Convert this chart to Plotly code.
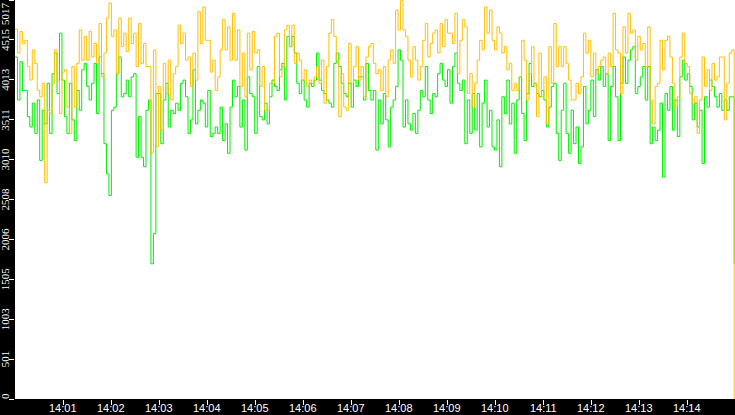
import pandas as pd
import plotly.graph_objects as go

orange_values = [
    4650, 4350, 4620, 4470,
    4510, 4180, 4010, 4390, 4220, 3880, 3800, 3970, 2720, 3630, 3590, 3970, 4390, 4010,
    3590, 4110, 4140, 3670, 3340, 4180, 3670, 4220, 4640, 4260, 4560, 4260, 4620, 4300,
    4470, 4220, 4720, 4050, 4350, 4790, 4980, 4560,
    4640, 4090, 4790, 4430, 4600, 4370, 4790, 4470, 4600, 4180, 4720, 4220, 4470, 4180,
    4180, 3090, 4390, 3170, 3930, 3380, 4220, 3840, 4260, 3760, 4090, 4180, 4700, 4470,
    4600, 4260, 4300, 3930, 4350, 4010, 4870, 4470,
    4930, 4510, 4510, 4110, 4260, 3880, 4050, 4390, 4770, 4390, 4680, 4260, 4850, 4260,
    4640, 3930, 4350, 3800, 4600, 4140, 4620, 4350, 4390, 3930, 4180, 3630, 3630, 3970,
    3970, 4560, 4600, 4050, 4180, 4640, 4700, 4430,
    4700, 4220, 4350, 4260, 4010, 4140, 3930, 4010, 3970, 4050, 4180, 3970, 4260, 3720,
    4180, 4600, 4770, 4560, 4260, 3550, 4090, 3670, 3630, 4470, 3970, 4180, 4430, 4010,
    4180, 3800, 4300, 4430, 4470, 4220, 4090, 4140,
    3880, 4180, 3800, 4260, 4390, 4220, 4890, 4640, 5010, 4640, 4560, 4260, 4050, 4430,
    4260, 4010, 4180, 4510, 4720, 4300, 4470, 4600, 4640, 4350, 4720, 4430, 4770, 4600,
    4600, 4470, 4850, 4090, 4510, 4770, 4680, 3840,
    4090, 3670, 3970, 4260, 4510, 4390, 4930, 4600, 4890, 4510, 4390, 4680, 4600, 4350,
    4430, 4140, 4220, 3880, 3970, 3880, 4050, 4510, 4260, 3760, 4090, 4430, 3970, 3550,
    4350, 3800, 4050, 3460, 4430, 3970, 4720, 4180,
    4430, 4180, 4430, 4220, 4010, 3760, 3760, 3970, 3840, 4050, 4600, 4350, 4510, 4050,
    4350, 4090, 4180, 4260, 4300, 4090, 4350, 4180, 4850, 4390, 4350, 3840, 4680, 4350,
    4850, 4600, 4640, 4260, 4560, 4390, 4470, 4180,
    4680, 3760, 3460, 3930, 3970, 4510, 4140, 4510, 4560, 4300, 3970, 3670, 3800, 4300,
    4600, 4220, 4180, 3840, 3720, 3800, 3340, 3760, 4300, 3930, 4140, 3880, 4220, 4010,
    4050, 4300, 4300, 3510, 3970, 4350, 4390, 0,
]

green_values = [
    4300, 3760, 4240, 3880,
    3880, 3550, 3420, 3720, 3340, 3760, 3000, 3630, 3460, 3970, 3340, 4090, 4350, 3840,
    4600, 4010, 3550, 3340, 3970, 3510, 3250, 3880, 3630, 4140, 4220, 3930, 3760, 3970,
    4220, 3590, 4300, 4090, 3210, 2830, 2560, 3630,
    3670, 4090, 4300, 3800, 3840, 4010, 3800, 4050, 4090, 3040, 3550, 3040, 2920, 3630,
    3760, 1700, 2080, 3840, 3840, 3210, 3760, 3970, 3420, 3630, 3590, 3720, 3630, 3970,
    4010, 3800, 3340, 3510, 4140, 3460, 3630, 3760,
    3720, 3420, 3880, 3300, 3340, 3420, 3340, 3670, 3250, 3460, 3090, 3670, 4010, 3800,
    3930, 3420, 3760, 3130, 4050, 3840, 3800, 3340, 4180, 3550, 3510, 3720, 3460, 3800,
    4010, 3930, 3880, 4140, 4220, 3760, 4560, 4430,
    4560, 4350, 3970, 3840, 4010, 3760, 3670, 3970, 3930, 4010, 4350, 4010, 3880, 3840,
    3760, 3720, 3670, 4220, 4350, 4180, 3970, 3840, 3800, 3970, 3670, 4010, 3930, 4050,
    4050, 3760, 4220, 3880, 3760, 3880, 3130, 3760,
    3460, 3840, 3510, 3170, 3670, 3760, 3930, 4390, 4260, 3420, 3760, 3460, 3380, 3590,
    3340, 3630, 3880, 3800, 4180, 3760, 3590, 3840, 3800, 4090, 4220, 4010, 3930, 4140,
    3720, 4180, 4350, 3970, 3880, 4010, 3210, 3760,
    3340, 3840, 3380, 3840, 3170, 3720, 4010, 3420, 3630, 3170, 3130, 3510, 2920, 3800,
    3590, 4010, 3460, 3720, 3090, 3760, 4050, 3590, 3250, 3840, 4220, 3930, 3970, 3840,
    3800, 3880, 3760, 3420, 3670, 3930, 3970, 3340,
    3000, 3630, 3970, 3340, 3090, 3630, 3210, 3420, 2960, 3170, 3930, 3460, 3630, 4010,
    3550, 4140, 4010, 4180, 3930, 4090, 3250, 3930, 4180, 3800, 3250, 3970, 4300, 3970,
    4260, 4390, 4430, 3840, 3930, 4050, 4180, 3760,
    4180, 3210, 3420, 3250, 3380, 3720, 2790, 3840, 3630, 3930, 3380, 3760, 3300, 4050,
    4260, 4010, 4090, 3930, 3510, 3720, 3420, 3630, 2960, 3800, 3670, 4010, 3930, 3800,
    3670, 3840, 3630, 3760, 3630, 3800, 3800, 1700,
]

y_ticks = [0, 501, 1003, 1505, 2006, 2508, 3010, 3511, 4013, 4515, 5017]
x_ticks = ['14:%02d' % m for m in range(1, 15)]

times = pd.date_range('2024-01-01 14:00:00', '2024-01-01 14:14:59', periods=len(green_values))
x_tick_times = [pd.Timestamp('2024-01-01 ' + t) for t in x_ticks]

fig = go.Figure()
fig.add_trace(go.Scatter(x=times, y=green_values, mode='lines', line_shape='hv',
                         line=dict(color='#00EE00', width=1), name='green'))
fig.add_trace(go.Scatter(x=times, y=orange_values, mode='lines', line_shape='hv',
                         line=dict(color='#FFC000', width=1), name='orange'))

# rotated y labels as annotations so the top one can sit inside the window
for v in y_ticks:
    shift = 0
    if v == y_ticks[-1]:
        shift = -14
    elif v == 0:
        shift = 3
    fig.add_annotation(x=0, xref='paper', y=v, yref='y', text=str(v), showarrow=False,
                       textangle=-90, xanchor='center', yanchor='middle',
                       xshift=-10, yshift=shift,
                       font=dict(family='Liberation Sans Narrow', size=11, color='white'))

# time labels sit tight under the tick marks
for t, label in zip(x_tick_times, x_ticks):
    fig.add_annotation(x=t, xref='x', y=0, yref='paper', text=label, showarrow=False,
                       xanchor='center', yanchor='bottom', yshift=-17,
                       font=dict(family='Liberation Sans', size=11, color='white'))

fig.update_layout(width=735, height=415,
                  margin=dict(l=15, r=0, t=0, b=16, autoexpand=False),
                  paper_bgcolor='black', plot_bgcolor='white',
                  showlegend=False, hovermode=False)

fig.update_xaxes(range=[pd.Timestamp('2024-01-01 14:00:00'), pd.Timestamp('2024-01-01 14:15:00')],
                 tickvals=x_tick_times, showticklabels=False,
                 ticks='outside', ticklen=5, tickcolor='white', showgrid=False, zeroline=False)
fig.update_yaxes(range=[0, 5017], tickvals=y_ticks, showticklabels=False,
                 ticks='outside', ticklen=5, tickcolor='white', showgrid=False, zeroline=False)

# drop the default page margin so the figure fills the window
fig.write_html("out.html", config={'displayModeBar': False},
               post_script="document.body.style.margin='0';document.body.style.background='black';")
